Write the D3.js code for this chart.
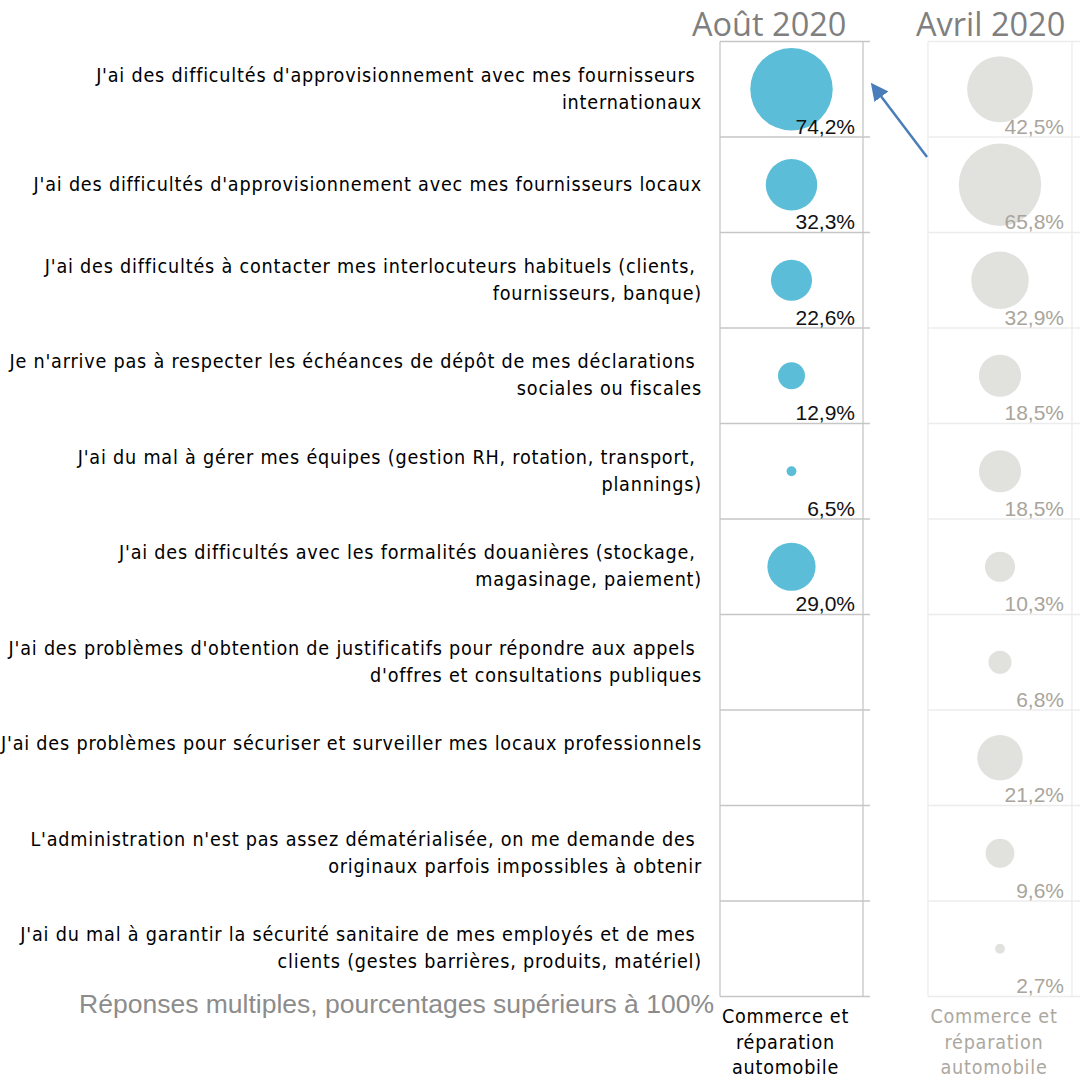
<!DOCTYPE html>
<html lang="fr">
<head>
<meta charset="utf-8">
<script src="https://cdn.jsdelivr.net/npm/d3@7"></script>
<style>
  html, body { margin: 0; padding: 0; background: #fff; }
  svg { display: block; }
  text { white-space: pre; }
</style>
</head>
<body>
<svg id="chart" width="1080" height="1080"></svg>
<script>
// Difficultés rencontrées — Commerce et réparation automobile
const questions = [
  ["J'ai des difficultés d'approvisionnement avec mes fournisseurs ", "internationaux"],
  ["J'ai des difficultés d'approvisionnement avec mes fournisseurs locaux"],
  ["J'ai des difficultés à contacter mes interlocuteurs habituels (clients, ", "fournisseurs, banque)"],
  ["Je n'arrive pas à respecter les échéances de dépôt de mes déclarations ", "sociales ou fiscales"],
  ["J'ai du mal à gérer mes équipes (gestion RH, rotation, transport, ", "plannings)"],
  ["J'ai des difficultés avec les formalités douanières (stockage, ", "magasinage, paiement)"],
  ["J'ai des problèmes d'obtention de justificatifs pour répondre aux appels ", "d'offres et consultations publiques"],
  ["J'ai des problèmes pour sécuriser et surveiller mes locaux professionnels", ""],
  ["L'administration n'est pas assez dématérialisée, on me demande des ", "originaux parfois impossibles à obtenir"],
  ["J'ai du mal à garantir la sécurité sanitaire de mes employés et de mes ", "clients (gestes barrières, produits, matériel)"]
];

const periods = ["Août 2020", "Avril 2020"];
const sectorLines = ["Commerce et", "réparation", "automobile"];

// Pourcentages de répondants (null = question non posée)
const valuesAout  = [74.2, 32.3, 22.6, 12.9, 6.5, 29.0, null, null, null, null];
const valuesAvril = [42.5, 65.8, 32.9, 18.5, 18.5, 10.3, 6.8, 21.2, 9.6, 2.7];

const footnote = "Réponses multiples, pourcentages supérieurs à 100%";

const fmt = v => d3.format(".1f")(v).replace(".", ",") + "%";

const svg = d3.select("#chart");

const y = d3.scaleBand()
  .domain(d3.range(questions.length))
  .range([41.5, 996.5])
  .padding(0);

// Panels: one per survey wave
const panels = [
  { title: periods[0], values: valuesAout, x0: 720, x1: 863, xEnd: 870,
    grid: "#c6c6c6", fill: "#5bbdd7", label: "#111", sector: "#000", titleX: 692 },
  { title: periods[1], values: valuesAvril, x0: 928, x1: 1072, xEnd: 1085,
    grid: "#ececec", fill: "#e1e1de", label: "#a9a59c", sector: "#aca89f", titleX: 916 }
];

const labelFont = "'DejaVu Sans Condensed', 'Noto Sans', sans-serif";

// Question labels on the left
const labels = svg.append("g")
  .attr("font-family", labelFont)
  .attr("font-size", 19.6)
  .attr("letter-spacing", 0.8)
  .attr("fill", "#000")
  .attr("text-anchor", "end");

const lineH = 27;
questions.forEach((lines, i) => {
  const cy = y(i) + y.bandwidth() / 2 - 1;
  const n = lines.length;
  lines.forEach((t, k) => {
    labels.append("text")
      .attr("x", 702)
      .attr("y", cy + (k - (n - 1) / 2) * lineH)
      .attr("dy", "0.35em")
      .text(t);
  });
});

svg.append("text")
  .attr("x", 714)
  .attr("y", 1013)
  .attr("text-anchor", "end")
  .attr("font-family", "'Liberation Sans', Arial, sans-serif")
  .attr("font-size", 26.5)
  .attr("fill", "#8c8c8c")
  .text(footnote);

panels.forEach(p => {
  const g = svg.append("g");
  const cx = (p.x0 + p.x1) / 2;
  const vals = p.values.filter(v => v != null);
  const area = d3.scaleLinear()
    .domain([d3.min(vals), d3.max(vals)])
    .range([24, 1700]);
  const r = v => Math.sqrt(area(v));

  // Title
  g.append("text")
    .attr("x", p.titleX)
    .attr("y", 36)
    .attr("font-family", "'Open Sans', sans-serif")
    .attr("font-size", 32.5)
    .attr("fill", "#7f7f7f")
    .text(p.title);

  // Grid: row separators and panel borders
  const bounds = d3.range(questions.length + 1).map(i => i < questions.length ? y(i) : y.range()[1]);
  g.selectAll("line.row")
    .data(bounds)
    .join("line")
    .attr("x1", p.x0).attr("x2", p.xEnd)
    .attr("y1", d => d).attr("y2", d => d)
    .attr("stroke", p.grid).attr("stroke-width", 1.3);
  [p.x0, p.x1].forEach(x => {
    g.append("line")
      .attr("x1", x).attr("x2", x)
      .attr("y1", y.range()[0]).attr("y2", y.range()[1])
      .attr("stroke", p.grid).attr("stroke-width", 1.3);
  });

  // Bubbles
  const rows = p.values.map((v, i) => ({ v, i })).filter(d => d.v != null);
  g.selectAll("circle")
    .data(rows)
    .join("circle")
    .attr("cx", cx)
    .attr("cy", d => y(d.i) + y.bandwidth() / 2)
    .attr("r", d => r(d.v))
    .attr("fill", p.fill);

  // Value labels
  g.selectAll("text.val")
    .data(rows)
    .join("text")
    .attr("class", "val")
    .attr("x", p.x1 - 8)
    .attr("y", d => y(d.i) + y.bandwidth() - 3.5)
    .attr("text-anchor", "end")
    .attr("font-family", "'Liberation Sans', Arial, sans-serif")
    .attr("font-size", 21)
    .attr("fill", p.label)
    .text(d => fmt(d.v));

  // Sector label under the panel
  sectorLines.forEach((t, k) => {
    g.append("text")
      .attr("x", cx - 6)
      .attr("y", 1023 + k * 25.5)
      .attr("text-anchor", "middle")
      .attr("font-family", labelFont)
      .attr("font-size", 19.6)
      .attr("letter-spacing", 0.75)
      .attr("fill", p.sector)
      .text(t);
  });
});

// Arrow from the April wave towards the August bubble
const defs = svg.append("defs");
defs.append("marker")
  .attr("id", "head")
  .attr("viewBox", "0 0 10 10")
  .attr("refX", 7).attr("refY", 5)
  .attr("markerWidth", 7).attr("markerHeight", 7)
  .attr("orient", "auto")
  .append("path")
  .attr("d", "M0,0 L10,5 L0,10 Z")
  .attr("fill", "#4a7ebb");

svg.append("line")
  .attr("x1", 927).attr("y1", 157)
  .attr("x2", 874).attr("y2", 87)
  .attr("stroke", "#4a7ebb")
  .attr("stroke-width", 2.5)
  .attr("marker-end", "url(#head)");
</script>
</body>
</html>
